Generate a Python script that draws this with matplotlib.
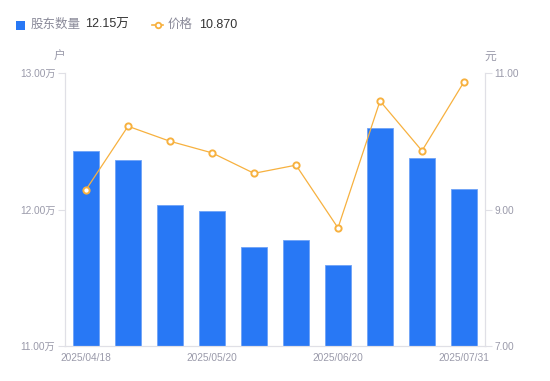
import matplotlib
matplotlib.use("Agg")
import matplotlib.pyplot as plt
from matplotlib.lines import Line2D

plt.rcParams['font.family'] = ['Liberation Sans', 'Noto Sans CJK SC', 'DejaVu Sans']

dates = ["2025/04/18", "2025/04/30", "2025/05/10", "2025/05/20", "2025/05/31",
         "2025/06/10", "2025/06/20", "2025/06/30", "2025/07/10", "2025/07/31"]
holders = [12.43, 12.36, 12.03, 11.99, 11.725, 11.78, 11.59, 12.60, 12.38, 12.15]  # 万户
price = [9.29, 10.22, 10.00, 9.83, 9.53, 9.65, 8.73, 10.59, 9.86, 10.87]
shown_ticks = [0, 3, 6, 9]
left_ticks = [11.0, 12.0, 13.0]
right_ticks = [7.0, 9.0, 11.0]

W, H = 550, 381
fig = plt.figure(figsize=(W / 100, H / 100), dpi=100)
ax = fig.add_axes([65 / W, (H - 346) / H, 420 / W, 273 / H])
ax2 = ax.twinx()

gray = "#9a9aaa"
axis_c = "#e0e0e6"
blue = "#2878f5"
orange = "#f7b13f"

x = list(range(len(dates)))
ax.bar(x, [h - 11.0 for h in holders], bottom=11.0, width=0.6, color=blue,
       edgecolor="#6ea2f7", linewidth=0.6, zorder=2)
ax.set_xlim(-0.5, len(dates) - 0.5)
ax.set_ylim(11.0, 13.0)
ax.set_yticks(left_ticks)
ax.set_yticklabels([f"{v:.2f}万" for v in left_ticks])

ax2.plot(x, price, color=orange, linewidth=0.9, marker="o", markersize=4.5,
         markerfacecolor="white", markeredgecolor=orange, markeredgewidth=1.4, zorder=3)
ax2.set_ylim(7.0, 11.0)
ax2.set_yticks(right_ticks)
ax2.set_yticklabels([f"{v:.2f}" for v in right_ticks])

ax.set_xticks(shown_ticks)
ax.set_xticklabels([dates[i] for i in shown_ticks])

for a in (ax, ax2):
    for s in a.spines.values():
        s.set_color(axis_c)
    a.spines['top'].set_visible(False)
    a.tick_params(colors=gray, labelsize=7.3, length=5, width=0.8)
    a.tick_params(axis='y', color=axis_c)
ax.tick_params(axis='x', length=0, pad=5)
ax.tick_params(axis='y', pad=2)
ax2.tick_params(axis='y', pad=2)
ax.patch.set_visible(False)

# units
fig.text(59 / W, 1 - 57 / H, "户", color=gray, fontsize=8.5, ha='center', va='center')
fig.text(490 / W, 1 - 57 / H, "元", color=gray, fontsize=8.5, ha='center', va='center')

# legend
ly = 1 - 25 / H
fig.patches.append(plt.Rectangle((16 / W, ly - 4.5 / H), 9 / W, 9 / H, transform=fig.transFigure,
                                 facecolor=blue, edgecolor='none'))
fig.text(31 / W, ly, "股东数量", color="#8a8a99", fontsize=9, va='center')
fig.text(85 / W, ly, f"{holders[-1]:.2f}万", color="#333333", fontsize=9, va='center')
fig.lines.append(Line2D([152 / W, 163 / W], [ly, ly], transform=fig.transFigure, color=orange,
                        linewidth=1.2))
fig.lines.append(Line2D([157.5 / W], [ly], transform=fig.transFigure, color=orange, marker="o",
                        markersize=4, markerfacecolor="white", markeredgewidth=1.3))
fig.text(168 / W, ly, "价格", color="#8a8a99", fontsize=9, va='center')
fig.text(199 / W, ly, f"{price[-1]:.3f}", color="#333333", fontsize=9, va='center')

fig.savefig("out.png", dpi=100)
